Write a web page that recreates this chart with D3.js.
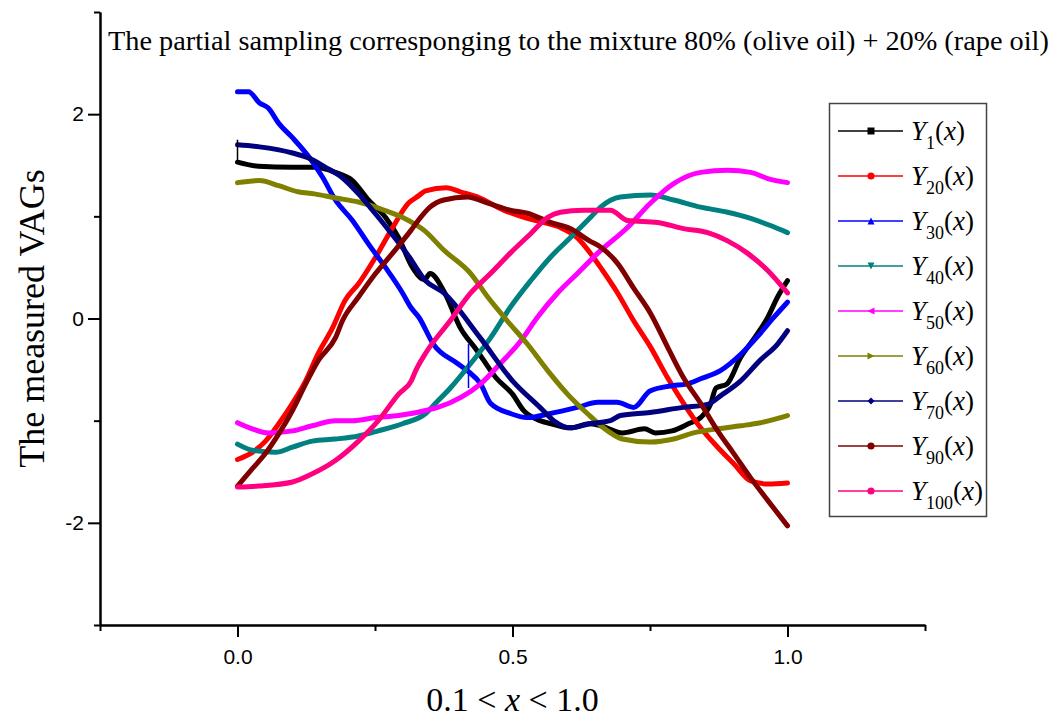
<!DOCTYPE html>
<html>
<head>
<meta charset="utf-8">
<script src="https://cdn.jsdelivr.net/npm/d3@7"></script>
<style>
  body { margin: 0; background: #fff; }
  svg { font-family: "Liberation Serif", "Times New Roman", serif; }
</style>
</head>
<body>
<script>
// series values, [x, value]
var y1 = [[0,1.53],[0.038,1.49],[0.1,1.48],[0.142,1.48],[0.178,1.43],[0.209,1.35],[0.238,1.16],[0.269,0.99],[0.293,0.79],[0.318,0.5],[0.34,0.38],[0.35,0.44],[0.375,0.27],[0.405,-0.09],[0.435,-0.31],[0.47,-0.58],[0.5,-0.74],[0.52,-0.9],[0.55,-1.0],[0.57,-1.03],[0.605,-1.07],[0.64,-1.03],[0.66,-1.05],[0.7,-1.12],[0.74,-1.08],[0.76,-1.12],[0.79,-1.1],[0.82,-1.03],[0.842,-0.97],[0.86,-0.84],[0.87,-0.68],[0.89,-0.64],[0.915,-0.38],[0.94,-0.19],[0.964,0.01],[0.982,0.21],[1.0,0.37]];
var y20 = [[0,-1.38],[0.027,-1.31],[0.051,-1.2],[0.075,-1.03],[0.1,-0.83],[0.124,-0.61],[0.147,-0.34],[0.173,-0.09],[0.196,0.18],[0.22,0.34],[0.251,0.6],[0.282,0.89],[0.311,1.13],[0.329,1.2],[0.342,1.25],[0.38,1.28],[0.405,1.24],[0.436,1.19],[0.484,1.06],[0.527,0.98],[0.556,0.94],[0.587,0.89],[0.618,0.79],[0.647,0.6],[0.66,0.5],[0.691,0.25],[0.72,-0.02],[0.751,-0.28],[0.782,-0.58],[0.811,-0.83],[0.842,-1.07],[0.873,-1.26],[0.902,-1.42],[0.933,-1.59],[0.964,-1.62],[1.0,-1.61]];
var y30 = [[0,2.22],[0.02,2.22],[0.04,2.11],[0.056,2.06],[0.075,1.91],[0.1,1.77],[0.13,1.58],[0.155,1.38],[0.178,1.16],[0.209,0.96],[0.238,0.73],[0.269,0.5],[0.3,0.25],[0.315,0.11],[0.33,0.01],[0.356,-0.25],[0.4,-0.44],[0.42,-0.52],[0.442,-0.64],[0.46,-0.83],[0.496,-0.93],[0.527,-0.97],[0.569,-0.93],[0.618,-0.87],[0.655,-0.82],[0.69,-0.82],[0.72,-0.87],[0.75,-0.71],[0.787,-0.66],[0.818,-0.64],[0.842,-0.59],[0.878,-0.51],[0.915,-0.35],[0.945,-0.18],[0.975,0.01],[1.0,0.16]];
var y40 = [[0,-1.23],[0.027,-1.29],[0.069,-1.31],[0.1,-1.26],[0.136,-1.2],[0.178,-1.18],[0.22,-1.15],[0.256,-1.1],[0.3,-1.03],[0.342,-0.93],[0.36,-0.83],[0.387,-0.68],[0.424,-0.44],[0.46,-0.19],[0.496,0.11],[0.533,0.37],[0.569,0.6],[0.605,0.79],[0.642,0.99],[0.66,1.09],[0.696,1.19],[0.751,1.21],[0.793,1.16],[0.842,1.09],[0.891,1.04],[0.933,0.98],[0.969,0.91],[1.0,0.84]];
var y50 = [[0,-1.02],[0.027,-1.08],[0.056,-1.12],[0.1,-1.1],[0.136,-1.05],[0.178,-1.0],[0.209,-1.0],[0.251,-0.97],[0.293,-0.95],[0.316,-0.93],[0.342,-0.9],[0.364,-0.87],[0.407,-0.77],[0.442,-0.64],[0.478,-0.44],[0.515,-0.22],[0.545,0.01],[0.582,0.25],[0.618,0.44],[0.655,0.64],[0.709,0.89],[0.751,1.13],[0.793,1.32],[0.842,1.43],[0.891,1.45],[0.933,1.43],[0.964,1.37],[1.0,1.33]];
var y60 = [[0,1.33],[0.04,1.35],[0.075,1.3],[0.11,1.24],[0.14,1.22],[0.178,1.18],[0.22,1.14],[0.256,1.08],[0.3,0.99],[0.34,0.86],[0.375,0.67],[0.424,0.44],[0.455,0.21],[0.49,-0.02],[0.527,-0.25],[0.564,-0.51],[0.6,-0.74],[0.636,-0.93],[0.673,-1.1],[0.7,-1.18],[0.75,-1.21],[0.793,-1.18],[0.829,-1.12],[0.873,-1.08],[0.915,-1.05],[0.951,-1.02],[1.0,-0.95]];
var y70 = [[0,1.7],[0.04,1.68],[0.1,1.62],[0.13,1.57],[0.16,1.48],[0.19,1.38],[0.22,1.22],[0.25,1.03],[0.28,0.83],[0.31,0.62],[0.342,0.37],[0.375,0.25],[0.44,-0.18],[0.5,-0.61],[0.55,-0.87],[0.575,-1.0],[0.605,-1.07],[0.64,-1.03],[0.678,-1.0],[0.696,-0.95],[0.75,-0.92],[0.81,-0.87],[0.855,-0.84],[0.88,-0.75],[0.915,-0.61],[0.95,-0.41],[0.982,-0.25],[1.0,-0.12]];
var y90 = [[0,-1.64],[0.027,-1.47],[0.051,-1.32],[0.075,-1.13],[0.1,-0.9],[0.124,-0.64],[0.147,-0.41],[0.178,-0.19],[0.191,-0.02],[0.22,0.21],[0.251,0.44],[0.282,0.64],[0.315,0.86],[0.333,0.99],[0.35,1.09],[0.375,1.16],[0.418,1.19],[0.455,1.13],[0.496,1.06],[0.527,1.03],[0.569,0.94],[0.605,0.88],[0.64,0.76],[0.66,0.7],[0.691,0.54],[0.72,0.3],[0.751,0.05],[0.782,-0.28],[0.811,-0.58],[0.842,-0.83],[0.873,-1.1],[0.902,-1.32],[0.933,-1.56],[0.964,-1.78],[1.0,-2.03]];
var y100 = [[0,-1.65],[0.038,-1.64],[0.1,-1.6],[0.136,-1.52],[0.178,-1.39],[0.22,-1.2],[0.256,-1.0],[0.293,-0.74],[0.316,-0.61],[0.324,-0.51],[0.342,-0.34],[0.387,-0.02],[0.424,0.25],[0.46,0.44],[0.496,0.64],[0.533,0.83],[0.564,0.99],[0.587,1.04],[0.629,1.06],[0.678,1.06],[0.709,0.96],[0.764,0.94],[0.811,0.88],[0.855,0.84],[0.891,0.76],[0.927,0.64],[0.964,0.47],[1.0,0.25]];

// thin vertical glitches in the recorded data
var y1Glitch = [[0,1.75],[0,1.53]];
var y30Glitch = [[0.42,-0.25],[0.42,-0.68]];

var seriesData = [y1, y20, y30, y40, y50, y60, y70, y90, y100];
var seriesSub = ["1", "20", "30", "40", "50", "60", "70", "90", "100"];
var seriesColors = ["#000000", "#ff0000", "#0000ff", "#008080", "#ff00ff", "#808000", "#000080", "#800000", "#ff0080"];
var seriesSymbols = ["square", "circle", "up", "down", "left", "right", "diamond", "circle", "circle"];

var xMajor = [0, 0.5, 1.0];
var xMinor = [-0.25, 0.25, 0.75, 1.25];
var yMajor = [-2, 0, 2];
var yMinor = [-3, -1, 1, 3];

var width = 1054;
var height = 720;

var svg = d3.select("body")
            .append("svg")
            .attr("width", width)
            .attr("height", height);

var x = d3.scaleLinear().domain([-0.25, 1.25]).range([100, 925]);
var y = d3.scaleLinear().domain([-3, 3]).range([625, 12]);

// axes: major ticks with labels, minor ticks without
svg.append("g")
   .attr("transform", "translate(0," + y(-3) + ")")
   .call(d3.axisBottom(x).tickValues(xMajor).tickSize(12).tickSizeOuter(0).tickPadding(12).tickFormat(d3.format(".1f")));
svg.append("g")
   .attr("transform", "translate(0," + y(-3) + ")")
   .call(d3.axisBottom(x).tickValues(xMinor).tickSize(6).tickSizeOuter(0).tickFormat(""));
svg.append("g")
   .attr("transform", "translate(" + x(-0.25) + ",0)")
   .call(d3.axisLeft(y).tickValues(yMajor).tickSize(12).tickSizeOuter(0).tickPadding(4).tickFormat(function(d) { return String(d); }));
svg.append("g")
   .attr("transform", "translate(" + x(-0.25) + ",0)")
   .call(d3.axisLeft(y).tickValues(yMinor).tickSize(6).tickSizeOuter(0).tickFormat(""));

svg.selectAll(".domain").attr("stroke-width", 2).attr("stroke", "#000");
svg.selectAll(".tick line").attr("stroke-width", 2).attr("stroke", "#000");
svg.selectAll(".tick text")
   .attr("fill", "#000")
   .style("font-family", "'Liberation Sans', Arial, sans-serif")
   .style("font-size", "21px");

// the curves
var line = d3.line()
             .curve(d3.curveMonotoneX)
             .x(function(d) { return x(d[0]); })
             .y(function(d) { return y(d[1]); });

svg.append("g")
   .selectAll("path")
   .data(seriesData)
   .enter()
   .append("path")
   .attr("d", line)
   .attr("fill", "none")
   .attr("stroke", function(d, i) { return seriesColors[i]; })
   .attr("stroke-width", 5)
   .attr("stroke-linejoin", "round")
   .attr("stroke-linecap", "round");

var straight = d3.line()
                 .x(function(d) { return x(d[0]); })
                 .y(function(d) { return y(d[1]); });

svg.append("path")
   .attr("d", straight(y1Glitch))
   .attr("fill", "none")
   .attr("stroke", seriesColors[0])
   .attr("stroke-width", 1.5);
svg.append("path")
   .attr("d", straight(y30Glitch))
   .attr("fill", "none")
   .attr("stroke", seriesColors[2])
   .attr("stroke-width", 1.5);

// title
svg.append("text")
   .attr("x", 108)
   .attr("y", 50)
   .style("font-size", "28.3px")
   .text("The partial sampling corresponging to the mixture 80% (olive oil) + 20% (rape oil)");

// y axis title
svg.append("text")
   .attr("transform", "translate(44," + y(0) + ")rotate(-90)")
   .attr("text-anchor", "middle")
   .style("font-size", "36px")
   .text("The measured VAGs");

// x axis title
var xt = svg.append("text")
   .attr("x", x(0.5))
   .attr("y", 711)
   .attr("text-anchor", "middle")
   .style("font-size", "34px");
xt.append("tspan").text("0.1 < ");
xt.append("tspan").style("font-style", "italic").text("x");
xt.append("tspan").text(" < 1.0");

// legend
var legend = svg.append("g");
legend.append("rect")
      .attr("x", 829.5)
      .attr("y", 103.5)
      .attr("width", 157)
      .attr("height", 413)
      .attr("fill", "#fff")
      .attr("stroke", "#444")
      .attr("stroke-width", 1.5);

function symbolPath(kind) {
  var s = 3.5;
  if (kind == "square") return "M" + -s + "," + -s + "h" + 2 * s + "v" + 2 * s + "h" + -2 * s + "Z";
  if (kind == "up") return "M0," + -s + "L" + s + "," + s + "L" + -s + "," + s + "Z";
  if (kind == "down") return "M0," + s + "L" + s + "," + -s + "L" + -s + "," + -s + "Z";
  if (kind == "left") return "M" + -s + ",0L" + s + "," + -s + "L" + s + "," + s + "Z";
  if (kind == "right") return "M" + s + ",0L" + -s + "," + -s + "L" + -s + "," + s + "Z";
  if (kind == "diamond") return "M0," + -s + "L" + s + ",0L0," + s + "L" + -s + ",0Z";
  return d3.symbol().type(d3.symbolCircle).size(40)();
}

var items = legend.selectAll("g.item")
                  .data(seriesSub)
                  .enter()
                  .append("g")
                  .attr("class", "item")
                  .attr("transform", function(d, i) { return "translate(0," + (131 + 45 * i) + ")"; });

items.append("line")
     .attr("x1", 838)
     .attr("x2", 903)
     .attr("stroke", function(d, i) { return seriesColors[i]; })
     .attr("stroke-width", 1.5);

items.append("path")
     .attr("transform", "translate(871,0)")
     .attr("d", function(d, i) { return symbolPath(seriesSymbols[i]); })
     .attr("fill", function(d, i) { return seriesColors[i]; });

var lt = items.append("text")
              .attr("x", 911)
              .attr("y", 9)
              .style("font-size", "27px");
lt.append("tspan").style("font-style", "italic").text("Y");
lt.append("tspan").attr("dy", 9).style("font-size", "18px").text(function(d) { return d; });
lt.append("tspan").attr("dy", -9).text("(");
lt.append("tspan").style("font-style", "italic").text("x");
lt.append("tspan").text(")");
</script>
</body>
</html>
